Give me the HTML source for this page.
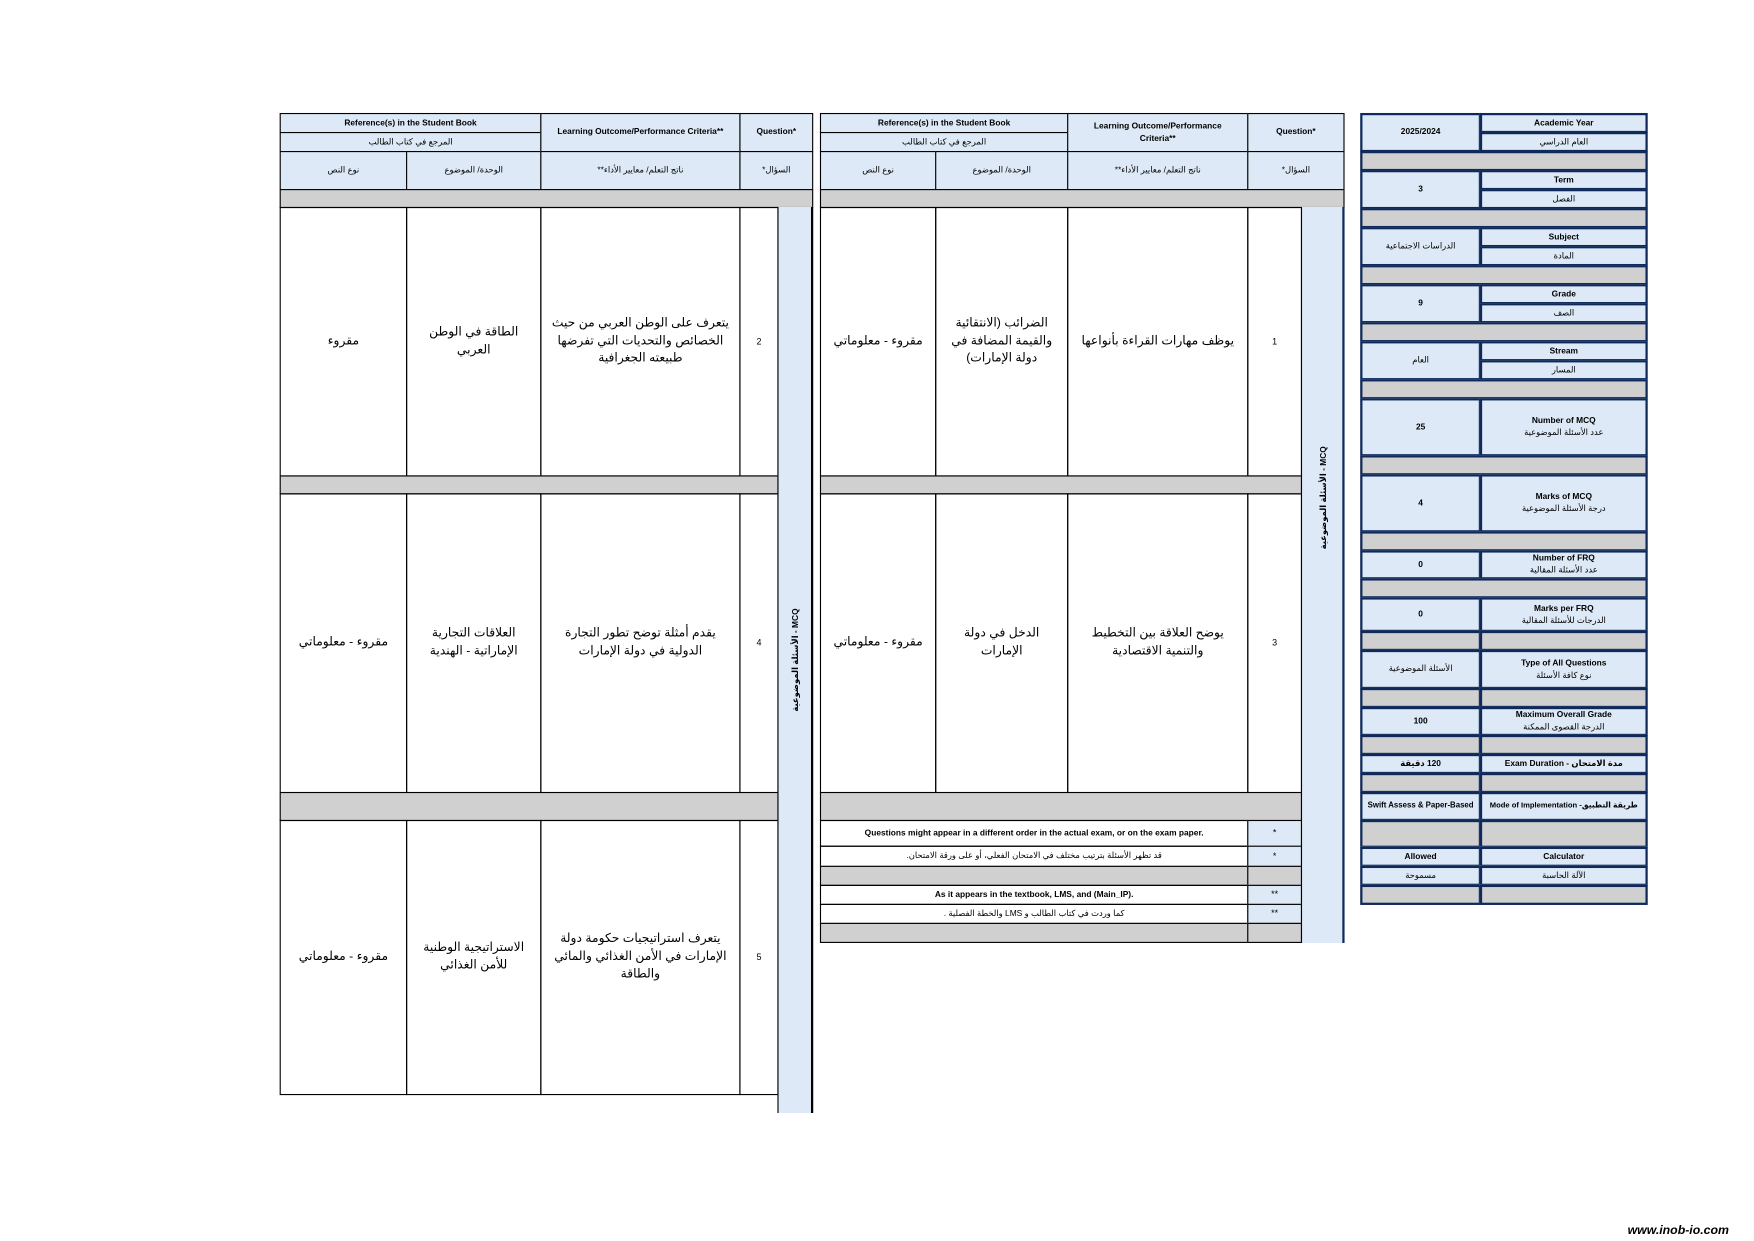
<!DOCTYPE html>
<html><head><meta charset="utf-8"><style>
html,body{margin:0;padding:0;background:#fff;}
body{width:1754px;height:1240px;overflow:hidden;position:relative;}
#w{position:absolute;left:0;top:0;width:1568px;height:1109px;transform:scale(1.1186);transform-origin:0 0;font-family:"Liberation Sans","DejaVu Sans",sans-serif;}
.c{position:absolute;box-sizing:border-box;border:1.5px solid #000;display:flex;align-items:center;justify-content:center;text-align:center;color:#000;line-height:1.45;padding:0 6px;}
.b{background:#dde9f6;}
.g{background:#d0d0d0;}
.h{font-size:7.5px;font-weight:bold;}
.ha{font-size:7.5px;direction:rtl;}
.t{font-size:11px;direction:rtl;}
.n{font-size:8px;}
.r{border:2.5px solid #0f2a5a;font-size:7.5px;}
.rb{font-weight:bold;}
.v{position:absolute;white-space:nowrap;font-size:7.5px;font-weight:bold;transform:translate(-50%,-50%) rotate(-90deg);}
</style></head><body><div id="w">

<!-- LEFT TABLE -->
<div class="c b h" style="left:250px;top:101px;width:234px;height:18px">Reference(s) in the Student Book</div>
<div class="c b ha" style="left:250px;top:118px;width:234px;height:18px">المرجع في كتاب الطالب</div>
<div class="c b ha" style="left:250px;top:135px;width:114px;height:35px">نوع النص</div>
<div class="c b ha" style="left:363px;top:135px;width:121px;height:35px">الوحدة/ الموضوع</div>
<div class="c b h" style="left:483px;top:101px;width:179px;height:35px">Learning Outcome/Performance Criteria**</div>
<div class="c b ha" style="left:483px;top:135px;width:179px;height:35px">ناتج التعلم/ معايير الأداء**</div>
<div class="c b h" style="left:661px;top:101px;width:66px;height:35px">Question*</div>
<div class="c b ha" style="left:661px;top:135px;width:66px;height:35px">السؤال*</div>
<div class="c g" style="left:250px;top:169px;width:477px;height:17px"></div>

<div class="c t" style="left:250px;top:185px;width:114px;height:241px">مقروء</div>
<div class="c t" style="left:363px;top:185px;width:121px;height:241px">الطاقة في الوطن العربي</div>
<div class="c t" style="left:483px;top:185px;width:179px;height:241px">يتعرف على الوطن العربي من حيث الخصائص والتحديات التي تفرضها طبيعته الجغرافية</div>
<div class="c n" style="left:661px;top:185px;width:35px;height:241px">2</div>
<div class="c g" style="left:250px;top:425px;width:446px;height:17px"></div>

<div class="c t" style="left:250px;top:441px;width:114px;height:268px">مقروء - معلوماتي</div>
<div class="c t" style="left:363px;top:441px;width:121px;height:268px">العلاقات التجارية الإماراتية - الهندية</div>
<div class="c t" style="left:483px;top:441px;width:179px;height:268px">يقدم أمثلة توضح تطور التجارة الدولية في دولة الإمارات</div>
<div class="c n" style="left:661px;top:441px;width:35px;height:268px">4</div>
<div class="c g" style="left:250px;top:708px;width:446px;height:26px"></div>

<div class="c t" style="left:250px;top:733px;width:114px;height:246px">مقروء - معلوماتي</div>
<div class="c t" style="left:363px;top:733px;width:121px;height:246px">الاستراتيجية الوطنية للأمن الغذائي</div>
<div class="c t" style="left:483px;top:733px;width:179px;height:246px">يتعرف استراتيجيات حكومة دولة الإمارات في الأمن الغذائي والمائي والطاقة</div>
<div class="c n" style="left:661px;top:733px;width:35px;height:246px">5</div>

<div class="c b" style="left:695px;top:185px;width:32px;height:810px;border-top:none;border-bottom:none;border-left:1px solid #000;border-right:2.5px solid #000"></div>
<div class="v" style="left:711px;top:590px">الأسئلة الموضوعية - MCQ</div>

<!-- MIDDLE TABLE -->
<div class="c b h" style="left:733px;top:101px;width:222px;height:18px">Reference(s) in the Student Book</div>
<div class="c b ha" style="left:733px;top:118px;width:222px;height:18px">المرجع في كتاب الطالب</div>
<div class="c b ha" style="left:733px;top:135px;width:104px;height:35px">نوع النص</div>
<div class="c b ha" style="left:836px;top:135px;width:119px;height:35px">الوحدة/ الموضوع</div>
<div class="c b h" style="left:954px;top:101px;width:162px;height:35px">Learning Outcome/Performance Criteria**</div>
<div class="c b ha" style="left:954px;top:135px;width:162px;height:35px">ناتج التعلم/ معايير الأداء**</div>
<div class="c b h" style="left:1115px;top:101px;width:87px;height:35px">Question*</div>
<div class="c b ha" style="left:1115px;top:135px;width:87px;height:35px">السؤال*</div>
<div class="c g" style="left:733px;top:169px;width:469px;height:17px"></div>

<div class="c t" style="left:733px;top:185px;width:104px;height:241px">مقروء - معلوماتي</div>
<div class="c t" style="left:836px;top:185px;width:119px;height:241px">الضرائب (الانتقائية والقيمة المضافة في دولة الإمارات)</div>
<div class="c t" style="left:954px;top:185px;width:162px;height:241px">يوظف مهارات القراءة بأنواعها</div>
<div class="c n" style="left:1115px;top:185px;width:49px;height:241px">1</div>
<div class="c g" style="left:733px;top:425px;width:431px;height:17px"></div>

<div class="c t" style="left:733px;top:441px;width:104px;height:268px">مقروء - معلوماتي</div>
<div class="c t" style="left:836px;top:441px;width:119px;height:268px">الدخل في دولة الإمارات</div>
<div class="c t" style="left:954px;top:441px;width:162px;height:268px">يوضح العلاقة بين التخطيط والتنمية الاقتصادية</div>
<div class="c n" style="left:1115px;top:441px;width:49px;height:268px">3</div>
<div class="c g" style="left:733px;top:708px;width:431px;height:26px"></div>

<div class="c h" style="left:733px;top:733px;width:383px;height:24px">Questions might appear in a different order in the actual exam, or on the exam paper.</div>
<div class="c b n" style="left:1115px;top:733px;width:49px;height:24px">*</div>
<div class="c ha" style="left:733px;top:756px;width:383px;height:19px">قد تظهر الأسئلة بترتيب مختلف في الامتحان الفعلي، أو على ورقة الامتحان.</div>
<div class="c b n" style="left:1115px;top:756px;width:49px;height:19px">*</div>
<div class="c g" style="left:733px;top:774px;width:383px;height:18px"></div>
<div class="c g" style="left:1115px;top:774px;width:49px;height:18px"></div>
<div class="c h" style="left:733px;top:791px;width:383px;height:18px">As it appears in the textbook, LMS, and (Main_IP).</div>
<div class="c b n" style="left:1115px;top:791px;width:49px;height:18px">**</div>
<div class="c ha" style="left:733px;top:808px;width:383px;height:18px">كما وردت في كتاب الطالب و LMS والخطة الفصلية .</div>
<div class="c b n" style="left:1115px;top:808px;width:49px;height:18px">**</div>
<div class="c g" style="left:733px;top:825px;width:383px;height:18px"></div>
<div class="c g" style="left:1115px;top:825px;width:49px;height:18px"></div>

<div class="c b" style="left:1163px;top:185px;width:39px;height:658px;border-top:none;border-bottom:none;border-left:1px solid #000;border-right:2.5px solid #0f2a5a"></div>
<div class="v" style="left:1183px;top:445px">الأسئلة الموضوعية - MCQ</div>

<!-- RIGHT TABLE -->
<div class="c b r rb" style="left:1216px;top:101px;width:108px;height:35px">2025/2024</div>
<div class="c b r rb" style="left:1323px;top:101px;width:150px;height:18px">Academic Year</div>
<div class="c b r" style="left:1323px;top:118px;width:150px;height:18px">العام الدراسي</div>
<div class="c g r" style="left:1216px;top:135px;width:257px;height:18px"></div>

<div class="c b r rb" style="left:1216px;top:152px;width:108px;height:35px">3</div>
<div class="c b r rb" style="left:1323px;top:152px;width:150px;height:18px">Term</div>
<div class="c b r" style="left:1323px;top:169px;width:150px;height:18px">الفصل</div>
<div class="c g r" style="left:1216px;top:186px;width:257px;height:18px"></div>

<div class="c b r" style="left:1216px;top:203px;width:108px;height:35px">الدراسات الاجتماعية</div>
<div class="c b r rb" style="left:1323px;top:203px;width:150px;height:18px">Subject</div>
<div class="c b r" style="left:1323px;top:220px;width:150px;height:18px">المادة</div>
<div class="c g r" style="left:1216px;top:237px;width:257px;height:18px"></div>

<div class="c b r rb" style="left:1216px;top:254px;width:108px;height:35px">9</div>
<div class="c b r rb" style="left:1323px;top:254px;width:150px;height:18px">Grade</div>
<div class="c b r" style="left:1323px;top:271px;width:150px;height:18px">الصف</div>
<div class="c g r" style="left:1216px;top:288px;width:257px;height:18px"></div>

<div class="c b r" style="left:1216px;top:305px;width:108px;height:35px">العام</div>
<div class="c b r rb" style="left:1323px;top:305px;width:150px;height:18px">Stream</div>
<div class="c b r" style="left:1323px;top:322px;width:150px;height:18px">المسار</div>
<div class="c g r" style="left:1216px;top:339px;width:257px;height:18px"></div>

<div class="c b r rb" style="left:1216px;top:356px;width:108px;height:52px">25</div>
<div class="c b r" style="left:1323px;top:356px;width:150px;height:52px"><span><b>Number of MCQ</b><br>عدد الأسئلة الموضوعية</span></div>
<div class="c g r" style="left:1216px;top:407px;width:257px;height:18px"></div>

<div class="c b r rb" style="left:1216px;top:424px;width:108px;height:52px">4</div>
<div class="c b r" style="left:1323px;top:424px;width:150px;height:52px"><span><b>Marks of MCQ</b><br>درجة الأسئلة الموضوعية</span></div>
<div class="c g r" style="left:1216px;top:475px;width:257px;height:18px"></div>

<div class="c b r rb" style="left:1216px;top:492px;width:108px;height:26px">0</div>
<div class="c b r" style="left:1323px;top:492px;width:150px;height:26px"><span><b>Number of FRQ</b><br>عدد الأسئلة المقالية</span></div>
<div class="c g r" style="left:1216px;top:517px;width:257px;height:18px"></div>

<div class="c b r rb" style="left:1216px;top:534px;width:108px;height:31px">0</div>
<div class="c b r" style="left:1323px;top:534px;width:150px;height:31px"><span><b>Marks per FRQ</b><br>الدرجات للأسئلة المقالية</span></div>
<div class="c g r" style="left:1216px;top:564px;width:108px;height:18px"></div>
<div class="c g r" style="left:1323px;top:564px;width:150px;height:18px"></div>

<div class="c b r" style="left:1216px;top:581px;width:108px;height:35px">الأسئلة الموضوعية</div>
<div class="c b r" style="left:1323px;top:581px;width:150px;height:35px"><span><b>Type of All Questions</b><br>نوع كافة الأسئلة</span></div>
<div class="c g r" style="left:1216px;top:615px;width:108px;height:18px"></div>
<div class="c g r" style="left:1323px;top:615px;width:150px;height:18px"></div>

<div class="c b r rb" style="left:1216px;top:632px;width:108px;height:26px">100</div>
<div class="c b r" style="left:1323px;top:632px;width:150px;height:26px"><span><b>Maximum Overall Grade</b><br>الدرجة القصوى الممكنة</span></div>
<div class="c g r" style="left:1216px;top:657px;width:108px;height:18px"></div>
<div class="c g r" style="left:1323px;top:657px;width:150px;height:18px"></div>

<div class="c b r rb" style="left:1216px;top:674px;width:108px;height:18px"><span dir="rtl">120 دقيقة</span></div>
<div class="c b r rb" style="left:1323px;top:674px;width:150px;height:18px">Exam Duration - مدة الامتحان</div>
<div class="c g r" style="left:1216px;top:691px;width:108px;height:18px"></div>
<div class="c g r" style="left:1323px;top:691px;width:150px;height:18px"></div>

<div class="c b r rb" style="left:1216px;top:708px;width:108px;height:26px;padding:0 1px;font-size:7px;white-space:nowrap">Swift Assess &amp; Paper-Based</div>
<div class="c b r rb" style="left:1323px;top:708px;width:150px;height:26px;padding:0 1px;font-size:6.8px;white-space:nowrap">Mode of Implementation -طريقة التطبيق</div>
<div class="c g r" style="left:1216px;top:733px;width:108px;height:25px"></div>
<div class="c g r" style="left:1323px;top:733px;width:150px;height:25px"></div>

<div class="c b r rb" style="left:1216px;top:757px;width:108px;height:18px">Allowed</div>
<div class="c b r rb" style="left:1323px;top:757px;width:150px;height:18px">Calculator</div>
<div class="c b r" style="left:1216px;top:774px;width:108px;height:18px">مسموحة</div>
<div class="c b r" style="left:1323px;top:774px;width:150px;height:18px">الآلة الحاسبة</div>
<div class="c g r" style="left:1216px;top:791px;width:108px;height:18px"></div>
<div class="c g r" style="left:1323px;top:791px;width:150px;height:18px"></div>

<div style="position:absolute;left:1455px;top:1094px;font-size:11px;font-weight:bold;font-style:italic;color:#000">www.inob-io.com</div>
</div></body></html>
